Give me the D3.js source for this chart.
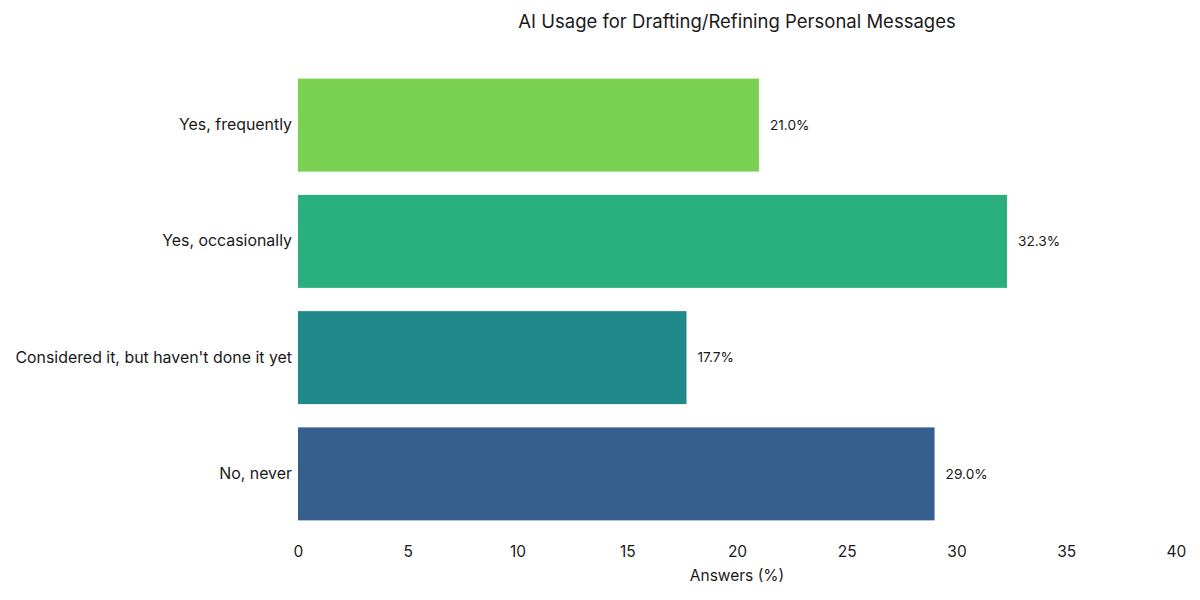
<!DOCTYPE html>
<html>
<head>
<meta charset="utf-8">
<script src="https://cdn.jsdelivr.net/npm/d3@7"></script>
<style>
  body { margin: 0; background: #fff; }
  text { font-family: Inter, Roboto, "Noto Sans", sans-serif; fill: #1a1a1a; }
</style>
</head>
<body>
<div id="chart"></div>
<script>

// data
var categories = ["Yes, frequently", "Yes, occasionally", "Considered it, but haven't done it yet", "No, never"];
var answers = [21.0, 32.3, 17.7, 29.0];
var barColors = ["#7ad151", "#2ab07f", "#21898a", "#355f8d"];
var xTicks = [0, 5, 10, 15, 20, 25, 30, 35, 40];

var W = 1200, H = 600;
var margin = {top: 67, right: 24, bottom: 68, left: 298};
var plot_w = W - margin.left - margin.right;
var plot_h = H - margin.top - margin.bottom;

var svg = d3.select("#chart").append("svg")
  .attr("width", W)
  .attr("height", H);

var g = svg.append("g")
  .attr("transform", "translate(" + margin.left + "," + margin.top + ")");

var x = d3.scaleLinear().domain([0, 40]).range([0, plot_w]);
var y = d3.scaleBand().domain(categories).range([0, plot_h])
  .paddingInner(0.2).paddingOuter(0.1);

var data = categories.map(function(c, i) { return {name: c, value: answers[i], color: barColors[i]}; });

// bars
g.selectAll("rect.bar")
  .data(data)
  .enter()
  .append("rect")
    .attr("class", "bar")
    .attr("x", x(0))
    .attr("y", function(d) { return y(d.name); })
    .attr("width", function(d) { return x(d.value) - x(0); })
    .attr("height", y.bandwidth())
    .attr("fill", function(d) { return d.color; });

// value labels
g.selectAll("text.val")
  .data(data)
  .enter()
  .append("text")
    .attr("class", "val")
    .attr("x", function(d) { return x(d.value) + 11; })
    .attr("y", function(d) { return y(d.name) + y.bandwidth() / 2; })
    .attr("dy", "0.35em")
    .style("font-size", "13.7px")
    .text(function(d) { return d.value.toFixed(1) + "%"; });

// x axis (no line, no ticks)
var xAxis = g.append("g")
  .attr("transform", "translate(0," + plot_h + ")")
  .call(d3.axisBottom(x).tickValues(xTicks).tickSize(0).tickPadding(14));
xAxis.select(".domain").remove();
xAxis.selectAll("text").style("font-size", "15.5px").attr("fill", "#1a1a1a");

// y axis
var yAxis = g.append("g")
  .call(d3.axisLeft(y).tickSize(0).tickPadding(6));
yAxis.select(".domain").remove();
yAxis.selectAll("text").style("font-size", "15.9px").attr("fill", "#1a1a1a");

// x label
g.append("text")
  .attr("x", plot_w / 2)
  .attr("y", plot_h + 44)
  .attr("dy", "0.35em")
  .style("text-anchor", "middle")
  .style("font-size", "15.5px")
  .text("Answers (%)");

// title
svg.append("text")
  .attr("x", margin.left + plot_w / 2)
  .attr("y", 22)
  .attr("dy", "0.35em")
  .style("text-anchor", "middle")
  .style("font-size", "18.5px")
  .text("AI Usage for Drafting/Refining Personal Messages");

</script>
</body>
</html>
